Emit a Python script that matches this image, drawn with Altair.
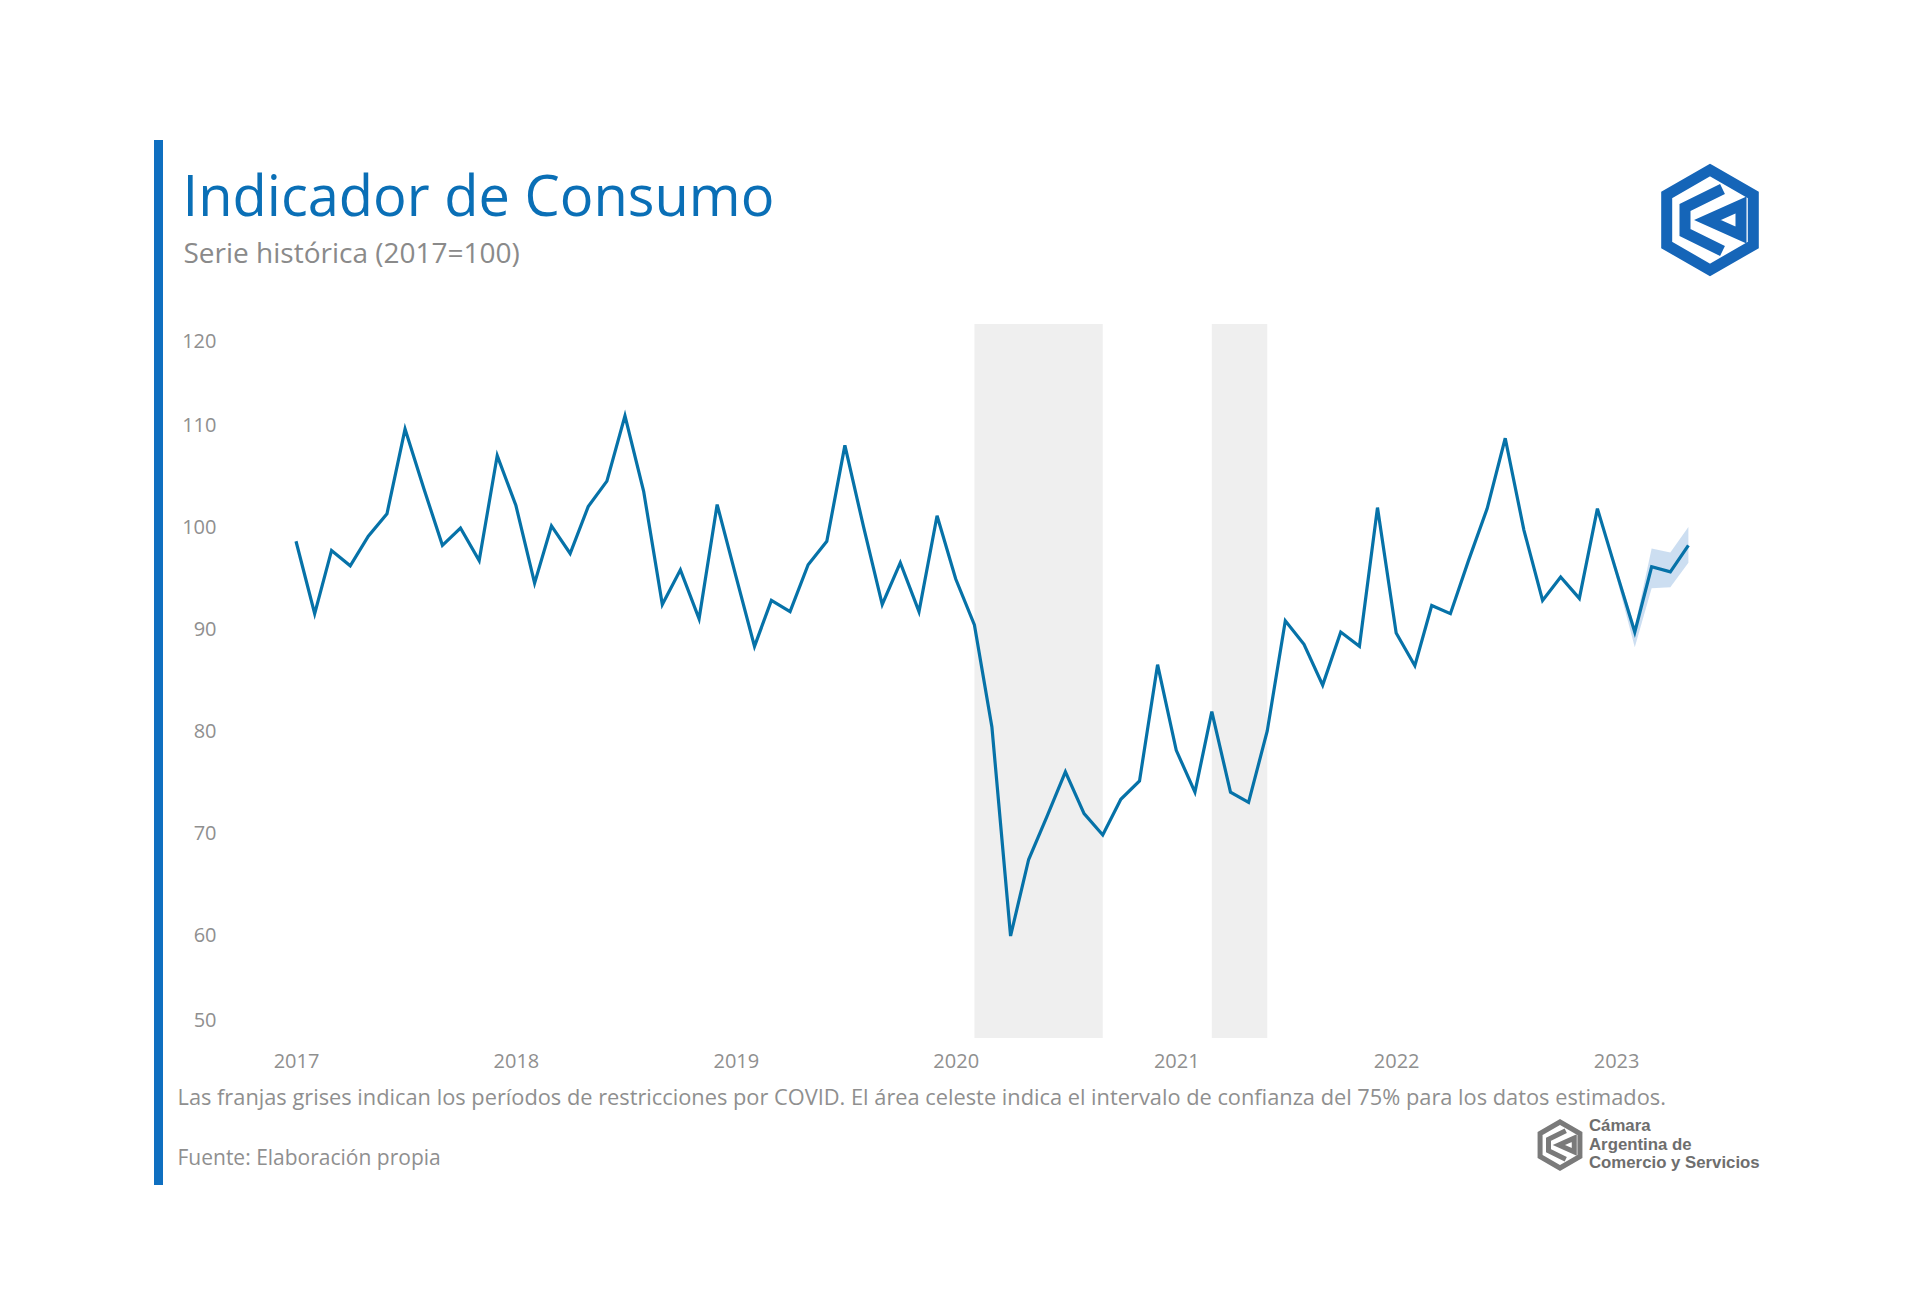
import altair as alt
import pandas as pd

# ---------------- data ----------------
years = [2017, 2018, 2019, 2020, 2021, 2022, 2023]
y_ticks = [50, 60, 70, 80, 90, 100, 110, 120]

# Monthly consumption index, Jan 2017 .. May 2023
values = [
    98.7, 91.6, 97.8, 96.3, 99.2, 101.4, 109.7, 103.9, 98.3, 100.0, 96.8, 107.1,   # 2017
    102.2, 94.6, 100.2, 97.5, 102.1, 104.6, 111.0, 103.6, 92.5, 95.9, 91.1, 102.3,  # 2018
    95.3, 88.4, 92.9, 91.8, 96.4, 98.7, 108.1, 100.1, 92.5, 96.6, 91.8, 101.2,      # 2019
    95.0, 90.5, 80.5, 60.0, 67.5, 71.8, 76.1, 72.0, 69.9, 73.4, 75.2, 86.6,         # 2020
    78.2, 74.1, 82.0, 74.1, 73.1, 80.1, 90.9, 88.6, 84.6, 89.8, 88.4, 102.0,        # 2021
    89.7, 86.5, 92.4, 91.6, 96.8, 101.9, 108.8, 99.8, 92.9, 95.2, 93.1, 101.9,      # 2022
    95.8, 89.8, 96.2, 95.7, 98.3,                                                   # 2023
]
months = [f"{2017 + i // 12}-{i % 12 + 1:02d}-01" for i in range(len(values))]

# 75% confidence interval for the estimated data
band_months = ["2022-12-01", "2023-01-01", "2023-02-01", "2023-03-01", "2023-04-01", "2023-05-01"]
band_hi = [101.9, 96.3, 90.3, 98.0, 97.6, 100.1]
band_lo = [101.9, 95.3, 88.3, 94.1, 94.2, 96.6]

# COVID restriction periods
covid_start = ["2020-02-01", "2021-03-01"]
covid_end = ["2020-09-01", "2021-06-01"]

title_text = "Indicador de Consumo"
subtitle_text = "Serie histórica (2017=100)"
note_text = ("Las franjas grises indican los períodos de restricciones por COVID. "
             "El área celeste indica el intervalo de confianza del 75% para los datos estimados.")
source_text = "Fuente: Elaboración propia"
org_lines = ["Cámara", "Argentina de", "Comercio y Servicios"]

# ---------------- tables ----------------
df = pd.DataFrame({"fecha": months, "valor": values})
df_band = pd.DataFrame({"fecha": band_months, "hi": band_hi, "lo": band_lo})
df_covid = pd.DataFrame({"ini": covid_start, "fin": covid_end})
df_ymid = pd.DataFrame({"v": y_ticks[1:-1]})
df_ytop = pd.DataFrame({"v": y_ticks[-1:]})
df_ybot = pd.DataFrame({"v": y_ticks[:1]})
one = pd.DataFrame({"k": [0]})

W, H = 1540, 714
LINE_COLOR = "#0672a8"
BLUE = "#0f6fc0"
GRAY_TXT = "#8f8f8f"
FONT = "Open Sans"

xscale = alt.Scale(
    type="utc",
    domain=[alt.DateTime(year=2016, month=9, date=1, utc=True),
            alt.DateTime(year=2023, month=9, date=1, utc=True)],
)
yscale = alt.Scale(domain=[50, 120], nice=False, zero=False)

xaxis = alt.Axis(
    values=[alt.DateTime(year=y, month=1, date=1, utc=True) for y in years],
    format="%Y", title=None, grid=False, domain=False, ticks=False, tickSize=0,
    labelPadding=13.5, labelFontSize=20, labelColor=GRAY_TXT, labelFont=FONT,
)

covid = alt.Chart(df_covid).mark_rect(color="#efefef").encode(
    x=alt.X("ini:T", scale=xscale, axis=xaxis),
    x2="fin:T",
    y=alt.value(0),
    y2=alt.value(H),
)

band = alt.Chart(df_band).mark_area(color="#c3d8ef", opacity=0.85).encode(
    x=alt.X("fecha:T", scale=xscale),
    y=alt.Y("hi:Q", scale=yscale, axis=None),
    y2="lo:Q",
)

line = alt.Chart(df).mark_line(color=LINE_COLOR, strokeWidth=3.2, strokeJoin="miter").encode(
    x=alt.X("fecha:T", scale=xscale),
    y=alt.Y("valor:Q", scale=yscale),
)


def ylab(d, dy):
    return alt.Chart(d).mark_text(
        align="right", baseline="middle", fontSize=20, color=GRAY_TXT, font=FONT, dy=dy,
    ).encode(
        x=alt.value(-6),
        y=alt.Y("v:Q", scale=yscale),
        text=alt.Text("v:Q", format="d"),
    )


ylabels = [ylab(df_ymid, 0), ylab(df_ytop, 18), ylab(df_ybot, -17)]


def txt(text, x, y, size, color, weight="normal", font=FONT):
    return alt.Chart(one).mark_text(
        text=text, fontSize=size, color=color, font=font, fontWeight=weight,
        align="left", baseline="alphabetic",
    ).encode(x=alt.value(x), y=alt.value(y))


bar = alt.Chart(one).mark_rule(color=BLUE, strokeWidth=9, strokeCap="butt").encode(
    x=alt.value(-64), y=alt.value(-184), y2=alt.value(861)
)

title = txt(title_text, -40, -108.5, 56, "#0a6fb6")
subtitle = txt(subtitle_text, -39, -61, 28, "#8a8a8a")
note = txt(note_text, -45, 781, 21.8, GRAY_TXT)
source = txt(source_text, -45, 841, 21, GRAY_TXT)
org = [txt(t, 1366.5, yy, 16.8, "#6e6e6e", "bold", "Liberation Sans")
       for t, yy in zip(org_lines, [807, 826, 844])]

HEX = "M0,-1L0.866,-0.5L0.866,0.5L0,1L-0.866,0.5L-0.866,-0.5Z"
INNER_C = "M0.25,-0.62L-0.5,-0.25L-0.5,0.25L0.25,0.62"
TRI = "M0.62,-0.3L-0.05,0L0.62,0.3Z"


def logo(cx, cy, scale, color, sw):
    parts = []
    for path in [HEX, INNER_C, TRI]:
        parts.append(
            alt.Chart(one).mark_point(
                shape=path, filled=False, size=scale ** 2,
                strokeWidth=sw, color=color, opacity=1, strokeJoin="miter",
            ).encode(x=alt.value(cx), y=alt.value(cy))
        )
    return parts


logo_top = logo(1487.5, -104, 100, "#1565b8", 11)
logo_bottom = logo(1337.5, 821, 46, "#7a7a7a", 5)

chart = alt.layer(
    covid, band, line, *ylabels, bar, title, subtitle, note, source, *org,
    *logo_top, *logo_bottom
).properties(
    width=W, height=H,
    autosize=alt.AutoSizeParams(type="none"),
    padding={"left": 214.5, "top": 316, "right": 130, "bottom": 250},
    background="white",
).configure_view(strokeWidth=0)

chart.save("out.html", embed_options={"renderer": "svg", "actions": False})
